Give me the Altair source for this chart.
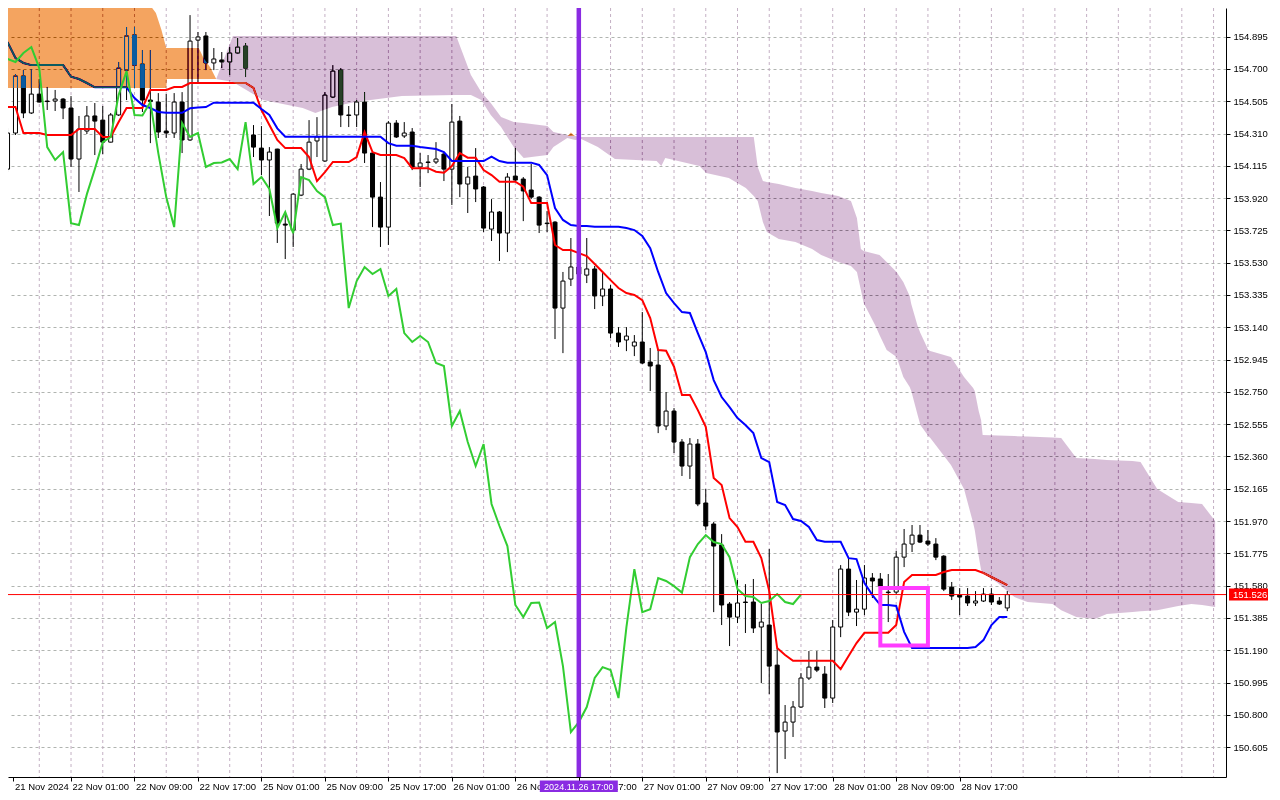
import altair as alt
import pandas as pd

# ---------------- data (H1 bars; bar 0 = 21 Nov 2024 17:00) ----------------
bar_index = list(range(127))

opens = [154.095, 154.313, 154.657, 154.434, 154.548, 154.506, 154.506, 154.518, 154.464, 154.156,
         154.325, 154.416, 154.391, 154.258, 154.422, 154.693, 154.905, 154.729, 154.512, 154.500,
         154.325, 154.313, 154.500, 154.271, 154.874, 154.899, 154.736, 154.754, 154.742, 154.796,
         154.838, 154.301, 154.222, 154.150, 154.216, 153.763, 153.727, 153.938, 154.095, 154.265,
         154.144, 154.530, 154.693, 154.422, 154.422, 154.500, 154.192, 153.926, 153.745, 154.373,
         154.295, 154.319, 154.108, 154.138, 154.138, 154.186, 154.095, 154.385, 154.005, 154.053,
         153.987, 153.733, 153.836, 153.709, 154.053, 154.035, 153.969, 153.926, 153.769, 153.775,
         153.256, 153.431, 153.504, 153.455, 153.492, 153.329, 153.371, 153.105, 153.063, 153.027,
         153.051, 152.930, 152.912, 152.544, 152.634, 152.447, 152.302, 152.435, 152.079, 151.952,
         151.825, 151.469, 151.390, 151.481, 151.481, 151.330, 151.342, 151.100, 150.702, 150.756,
         150.847, 151.022, 151.088, 151.046, 150.901, 151.330, 151.680, 151.420, 151.438, 151.626,
         151.620, 151.541, 151.541, 151.752, 151.831, 151.885, 151.849, 151.831, 151.758, 151.571,
         151.523, 151.517, 151.475, 151.487, 151.529, 151.487, 151.445]

highs = [154.343, 154.669, 154.693, 154.699, 154.639, 154.591, 154.573, 154.524, 154.536, 154.416,
         154.476, 154.494, 154.476, 154.434, 154.742, 154.953, 154.953, 154.814, 154.814, 154.554,
         154.548, 154.554, 154.560, 155.025, 154.923, 154.923, 154.826, 154.802, 154.832, 154.887,
         154.856, 154.361, 154.355, 154.228, 154.218, 153.836, 153.951, 154.126, 154.391, 154.409,
         154.560, 154.723, 154.705, 154.476, 154.512, 154.560, 154.198, 154.017, 154.385, 154.391,
         154.379, 154.343, 154.192, 154.180, 154.258, 154.198, 154.488, 154.416, 154.108, 154.222,
         153.993, 153.914, 153.842, 154.071, 154.222, 154.047, 154.126, 153.932, 153.842, 153.781,
         153.474, 153.679, 153.667, 153.679, 153.510, 153.467, 153.395, 153.141, 153.141, 153.093,
         153.232, 153.015, 153.003, 152.749, 152.652, 152.465, 152.471, 152.465, 152.163, 151.964,
         151.891, 151.481, 151.614, 151.589, 151.620, 151.469, 151.801, 151.203, 150.859, 150.883,
         151.052, 151.185, 151.185, 151.094, 151.372, 151.704, 151.746, 151.614, 151.704, 151.656,
         151.656, 151.650, 151.789, 151.922, 151.946, 151.946, 151.916, 151.867, 151.764, 151.602,
         151.565, 151.565, 151.547, 151.565, 151.565, 151.511, 151.547]

lows = [154.077, 154.301, 154.403, 154.428, 154.498, 154.452, 154.446, 154.397, 154.108, 153.957,
        154.307, 154.180, 154.186, 154.256, 154.416, 154.512, 154.585, 154.440, 154.252, 154.283,
        154.283, 154.283, 154.192, 154.265, 154.621, 154.693, 154.693, 154.705, 154.663, 154.790,
        154.651, 154.168, 154.059, 153.812, 153.649, 153.552, 153.625, 153.932, 154.089, 154.168,
        154.138, 154.524, 154.349, 154.349, 154.349, 154.132, 153.745, 153.625, 153.637, 154.283,
        154.283, 154.089, 153.987, 154.071, 154.126, 154.023, 153.878, 153.926, 153.830, 153.896,
        153.715, 153.661, 153.540, 153.594, 154.017, 153.781, 153.914, 153.709, 153.715, 153.069,
        152.984, 153.389, 153.425, 153.407, 153.250, 153.268, 153.075, 153.021, 152.996, 152.966,
        152.918, 152.755, 152.501, 152.519, 152.381, 152.242, 152.224, 152.060, 151.916, 151.420,
        151.342, 151.215, 151.354, 151.294, 151.294, 150.992, 150.925, 150.448, 150.533, 150.666,
        150.841, 151.010, 151.058, 150.841, 150.871, 151.269, 151.396, 151.336, 151.402, 151.505,
        151.457, 151.360, 151.529, 151.692, 151.783, 151.837, 151.819, 151.734, 151.547, 151.493,
        151.402, 151.457, 151.457, 151.481, 151.463, 151.463, 151.426]

closes = [154.313, 154.657, 154.434, 154.548, 154.500, 154.503, 154.518, 154.464, 154.156, 154.337,
          154.416, 154.385, 154.258, 154.422, 154.705, 154.899, 154.723, 154.512, 154.503, 154.319,
          154.313, 154.500, 154.271, 154.868, 154.893, 154.736, 154.760, 154.742, 154.796, 154.832,
          154.705, 154.228, 154.150, 154.198, 153.769, 153.757, 153.944, 154.095, 154.258, 154.289,
          154.542, 154.687, 154.422, 154.419, 154.500, 154.192, 153.926, 153.745, 154.373, 154.289,
          154.313, 154.108, 154.132, 154.135, 154.156, 154.095, 154.379, 154.005, 154.047, 153.975,
          153.739, 153.836, 153.709, 154.047, 154.029, 153.963, 153.926, 153.757, 153.766, 153.256,
          153.419, 153.504, 153.461, 153.492, 153.329, 153.371, 153.105, 153.051, 153.087, 153.051,
          152.924, 152.906, 152.544, 152.634, 152.447, 152.302, 152.435, 152.073, 151.940, 151.819,
          151.463, 151.390, 151.475, 151.478, 151.324, 151.360, 151.094, 150.696, 150.756, 150.847,
          151.022, 151.088, 151.070, 150.901, 151.330, 151.680, 151.420, 151.438, 151.626, 151.608,
          151.577, 151.538, 151.752, 151.831, 151.885, 151.843, 151.831, 151.752, 151.559, 151.517,
          151.511, 151.475, 151.487, 151.529, 151.481, 151.469, 151.526]

tenkan = [154.470, 154.470, 154.313, 154.313, 154.313, 154.301, 154.301, 154.301, 154.301, 154.337,
          154.337, 154.337, 154.289, 154.289, 154.379, 154.464, 154.464, 154.464, 154.573, 154.573,
          154.573, 154.591, 154.591, 154.615, 154.615, 154.615, 154.615, 154.615, 154.615, 154.615,
          154.615, 154.585, 154.452, 154.361, 154.271, 154.222, 154.222, 154.222, 154.168, 154.023,
          154.077, 154.138, 154.138, 154.138, 154.168, 154.319, 154.198, 154.180, 154.180, 154.180,
          154.162, 154.101, 154.101, 154.101, 154.079, 154.073, 154.114, 154.192, 154.164, 154.164,
          154.089, 154.059, 154.019, 154.019, 154.019, 153.989, 153.890, 153.890, 153.890, 153.637,
          153.606, 153.606, 153.588, 153.570, 153.522, 153.474, 153.425, 153.377, 153.347, 153.335,
          153.304, 153.196, 153.003, 152.998, 152.902, 152.731, 152.731, 152.640, 152.539, 152.230,
          152.187, 151.988, 151.934, 151.845, 151.845, 151.746, 151.547, 151.203, 151.161, 151.126,
          151.126, 151.126, 151.126, 151.126, 151.126, 151.076, 151.155, 151.233, 151.295, 151.295,
          151.295, 151.295, 151.342, 151.602, 151.644, 151.644, 151.644, 151.644, 151.662, 151.674,
          151.674, 151.674, 151.674, 151.656, 151.632, 151.608, 151.583]

kijun = [154.862, 154.766, 154.736, 154.723, 154.723, 154.723, 154.723, 154.723, 154.653, 154.639,
         154.615, 154.589, 154.589, 154.589, 154.589, 154.589, 154.524, 154.482, 154.464, 154.440,
         154.435, 154.435, 154.435, 154.462, 154.467, 154.470, 154.496, 154.496, 154.496, 154.496,
         154.496, 154.496, 154.458, 154.422, 154.341, 154.291, 154.291, 154.291, 154.291, 154.291,
         154.291, 154.291, 154.291, 154.291, 154.291, 154.291, 154.291, 154.291, 154.252, 154.236,
         154.236, 154.236, 154.228, 154.222, 154.216, 154.198, 154.144, 154.144, 154.144, 154.144,
         154.144, 154.170, 154.144, 154.134, 154.134, 154.134, 154.134, 154.120, 154.059, 153.860,
         153.788, 153.757, 153.751, 153.751, 153.747, 153.747, 153.747, 153.747, 153.739, 153.727,
         153.691, 153.618, 153.474, 153.347, 153.286, 153.232, 153.226, 153.105, 152.990, 152.821,
         152.719, 152.658, 152.592, 152.550, 152.501, 152.350, 152.326, 152.085, 152.067, 151.982,
         151.970, 151.934, 151.855, 151.845, 151.845, 151.845, 151.746, 151.740, 151.596, 151.523,
         151.463, 151.463, 151.457, 151.301, 151.203, 151.203, 151.203, 151.203, 151.203, 151.203,
         151.203, 151.203, 151.209, 151.251, 151.342, 151.390, 151.390]

# Kumo (cloud) edges, shifted 26 bars ahead; x in bar units
orange_seg = [0, 0, 0, 0, 0, 0, 0, 0, 0, 0, 1, 1, 1]
orange_i = [-0.4, 17.8, 18.7, 19.4, 20.0, 20.1, 24.1, 24.7, 25.6, 26.3, 70.6, 71.0, 71.5]
orange_top = [155.092, 155.095, 155.038, 154.935, 154.826, 154.826, 154.826, 154.766, 154.705, 154.639,
              154.295, 154.316, 154.295]
orange_bot = [154.585, 154.585, 154.585, 154.585, 154.585, 154.639, 154.639, 154.639, 154.639, 154.639,
              154.295, 154.295, 154.295]

pink_i = [26.3, 28.4, 32.2, 37.2, 38.8, 40.9, 43.8, 49.7, 56.55, 58.4, 59.7, 60.9, 62.2, 63.8, 65.05,
          68.05, 68.8, 70.55, 71.55, 72.3, 74.4, 76.55, 81.8, 82.4, 82.9, 87.2, 88.05, 90.9, 93.05, 94.05,
          94.55, 95.2, 95.7, 97.2, 99.3, 101.4, 102.55, 104.7, 106.3, 107.05, 107.55, 107.9, 109.4, 109.9,
          110.8, 112.05, 112.9, 113.7, 113.9, 114.7, 115.05, 116.05, 116.3, 118.9, 120.55, 121.7, 121.9,
          122.4, 122.7, 122.9, 124.8, 126.9, 128.55, 131.7, 132.8, 134.7, 137.05, 138.55, 141.8, 142.8,
          144.9, 147.55, 149.2, 150.55, 152.2]
pink_top = [154.639, 154.899, 154.899, 154.899, 154.899, 154.899, 154.899, 154.899, 154.899, 154.663,
            154.560, 154.494, 154.409, 154.379, 154.373, 154.355, 154.319, 154.301, 154.295, 154.289,
            154.289, 154.289, 154.289, 154.289, 154.289, 154.289, 154.289, 154.289, 154.289, 154.289,
            154.108, 154.023, 154.017, 154.005, 153.981, 153.963, 153.951, 153.932, 153.902, 153.800,
            153.612, 153.600, 153.582, 153.576, 153.534, 153.474, 153.413, 153.329, 153.280, 153.147,
            153.105, 153.003, 152.996, 152.960, 152.839, 152.773, 152.755, 152.634, 152.580, 152.489,
            152.486, 152.483, 152.480, 152.474, 152.471, 152.350, 152.344, 152.338, 152.332, 152.326,
            152.163, 152.085, 152.079, 152.073, 151.970]
pink_bot = [154.639, 154.621, 154.512, 154.464, 154.434, 154.470, 154.500, 154.536, 154.542, 154.542,
            154.512, 154.422, 154.349, 154.228, 154.162, 154.180, 154.228, 154.283, 154.271, 154.277,
            154.228, 154.156, 154.144, 154.114, 154.162, 154.114, 154.071, 154.041, 153.981, 153.932,
            153.902, 153.775, 153.715, 153.673, 153.655, 153.612, 153.576, 153.534, 153.510, 153.474,
            153.365, 153.286, 153.147, 153.093, 153.003, 152.960, 152.839, 152.779, 152.755, 152.610,
            152.550, 152.483, 152.471, 152.308, 152.163, 151.958, 151.916, 151.758, 151.674, 151.656,
            151.596, 151.511, 151.481, 151.469, 151.432, 151.390, 151.378, 151.408, 151.420, 151.426,
            151.432, 151.457, 151.469, 151.463, 151.451]

price_ticks = [155.090, 154.895, 154.700, 154.505, 154.310, 154.115, 153.920, 153.725, 153.530,
               153.335, 153.140, 152.945, 152.750, 152.555, 152.360, 152.165, 151.970, 151.775,
               151.580, 151.385, 151.190, 150.995, 150.800, 150.605]
# first label sits at the left edge of the window
time_ticks = [0.75, 8, 16, 24, 32, 40, 48, 56, 64, 72, 80, 88, 96, 104, 112, 120]
time_labels = ['21 Nov 2024', '22 Nov 01:00', '22 Nov 09:00', '22 Nov 17:00', '25 Nov 01:00',
               '25 Nov 09:00', '25 Nov 17:00', '26 Nov 01:00', '26 Nov 09:00', '26 Nov 17:00',
               '27 Nov 01:00', '27 Nov 09:00', '27 Nov 17:00', '28 Nov 01:00', '28 Nov 09:00',
               '28 Nov 17:00']
grid_bars = list(range(4, 153, 4))

last_price = 151.526
marker_bar = 72
marker_text = '2024.11.26 17:00'
box_i = [110, 116]
box_p = [151.565, 151.219]

# ---------------- frames ----------------
df = pd.DataFrame({'i': bar_index, 'open': opens, 'high': highs, 'low': lows, 'close': closes,
                   'tenkan': tenkan, 'kijun': kijun})
df['dir'] = ['up' if c >= o else 'down' for o, c in zip(opens, closes)]
chik = pd.DataFrame({'i': bar_index[:101], 'chikou': closes[26:]})
orange = pd.DataFrame({'i': orange_i, 'top': orange_top, 'bot': orange_bot, 'seg': orange_seg})
pink = pd.DataFrame({'i': pink_i, 'top': pink_top, 'bot': pink_bot})
grid = pd.DataFrame({'i': grid_bars})
price_df = pd.DataFrame({'p': [last_price], 'label': [f'{last_price:.3f}']})
marker_df = pd.DataFrame({'i': [marker_bar], 'label': [marker_text]})
box_df = pd.DataFrame({'x1': [box_i[0]], 'x2': [box_i[1]], 'y1': [box_p[0]], 'y2': [box_p[1]]})

FONT = 'Liberation Sans'
# 8 px per bar, price scale 165.6 px per yen (as in the terminal window)
xs = alt.Scale(domain=[0.6875, 152.9375], nice=False, zero=False)
ys = alt.Scale(domain=[150.4244, 155.0679], nice=False, zero=False)

label_expr = '[' + ','.join("'%s'" % t for t in time_labels) + '][round(datum.value / 8)]'
xaxis = alt.Axis(values=time_ticks, labelExpr=label_expr, grid=False, tickSize=4, tickColor='black',
                 domainColor='black', labelAlign='left', labelBaseline='middle', labelPadding=5.5,
                 labelOffset=1, labelFont=FONT, labelFontSize=9.5, labelColor='black', title=None,
                 labelOverlap=False, labelFlush=False, labelBound=False)
yaxis = alt.Axis(values=price_ticks, format='.3f', orient='right', grid=True, gridColor='#b0b4b0',
                 gridDash=[3, 3], gridWidth=1, tickSize=4, tickColor='black', domainColor='black',
                 labelPadding=3, labelFont=FONT, labelFontSize=9.5, labelColor='black',
                 labelAlign='left', labelBaseline='middle', title=None, labelOverlap=False,
                 labelFlush=False, labelBound=False)


def X(f):
    return alt.X(f, type='quantitative', scale=xs, axis=xaxis)


def Y(f):
    return alt.Y(f, type='quantitative', scale=ys, axis=yaxis)


vgrid = alt.Chart(grid).mark_rule(color='#c4b0c4', strokeDash=[3, 3], strokeWidth=1).encode(x=X('i'))

wicks = alt.Chart(df).mark_rule(color='black', strokeWidth=1).encode(
    x=X('i'), y=Y('low'), y2='high:Q')

bodies = alt.Chart(df).mark_bar(size=4, stroke='black', strokeWidth=1).encode(
    x=X('i'), y=Y('open'), y2='close:Q',
    color=alt.Color('dir:N', scale=alt.Scale(domain=['up', 'down'], range=['white', 'black']),
                    legend=None))

tenkan_l = alt.Chart(df).mark_line(color='#ff0000', strokeWidth=2).encode(x=X('i'), y=Y('tenkan'))
kijun_l = alt.Chart(df).mark_line(color='#0000ff', strokeWidth=2).encode(x=X('i'), y=Y('kijun'))

# cloud drawn with inverted colours in "difference" mode (white background -> sandybrown / thistle)
orange_a = alt.Chart(orange).mark_area(color='#0b5b9f', blend='difference', opacity=1).encode(
    x=X('i'), y=Y('top'), y2='bot:Q', detail='seg:N')
pink_a = alt.Chart(pink).mark_area(color='#274027', blend='difference', opacity=1).encode(
    x=X('i'), y=Y('top'), y2='bot:Q')

chikou_l = alt.Chart(chik).mark_line(color='#32cd32', strokeWidth=2).encode(x=X('i'), y=Y('chikou'))

price_line = alt.Chart(price_df).mark_rule(color='#ff0000', strokeWidth=1).encode(y=Y('p'))

vline = alt.Chart(marker_df).mark_rule(color='#8a2be2', strokeWidth=4.5).encode(x=X('i'))

rect = alt.Chart(box_df).mark_rect(fillOpacity=0, stroke='#ff3cff', strokeWidth=4).encode(
    x=X('x1'), x2='x2:Q', y=Y('y1'), y2='y2:Q')

price_box = alt.Chart(price_df).mark_point(
    shape='M-1,-0.3077L1,-0.3077L1,0.3077L-1,0.3077Z', size=1521, filled=True, color='#ff0000',
    opacity=1, strokeWidth=0).encode(x=alt.value(1240.5), y=Y('p'))
price_txt = alt.Chart(price_df).mark_text(align='left', baseline='middle', color='white', font=FONT,
                                          fontSize=9.5).encode(x=alt.value(1225), y=Y('p'), text='label:N')

date_box = alt.Chart(marker_df).mark_point(
    shape='M-1,-0.1538L1,-0.1538L1,0.1538L-1,0.1538Z', size=6084, filled=True, color='#8a2be2',
    opacity=1, strokeWidth=0).encode(x=X('i'), y=alt.value(778.5))
date_txt = alt.Chart(marker_df).mark_text(align='center', baseline='middle', color='white', font=FONT,
                                          fontSize=9).encode(x=X('i'), y=alt.value(778.5), text='label:N')

chart = alt.layer(
    vgrid, wicks, bodies, tenkan_l, kijun_l, orange_a, pink_a, chikou_l, price_line, vline, rect,
    price_box, price_txt, date_box, date_txt
).properties(
    width=1218, height=769,
    autosize=alt.AutoSizeParams(type='none'),
    padding={'left': 0, 'top': 0, 'right': 46, 'bottom': 15},
    background='white'
).configure_view(stroke=None)

chart.save('out.html', embed_options={'renderer': 'svg', 'actions': False})
